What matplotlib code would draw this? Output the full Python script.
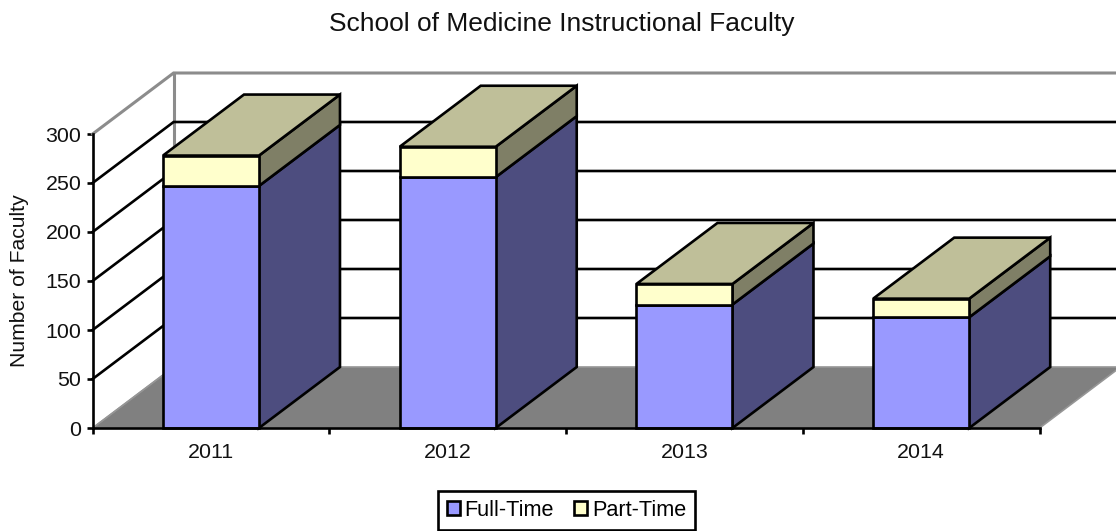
import matplotlib
matplotlib.use("Agg")
import matplotlib.pyplot as plt
from matplotlib.patches import Patch, Polygon

plt.rcParams["font.family"] = ["Liberation Sans", "DejaVu Sans"]

years = ["2011", "2012", "2013", "2014"]
full_time = [247, 256, 126, 113]
part_time = [31, 31, 21, 19]
y_ticks = [0, 50, 100, 150, 200, 250, 300]

BLUE, BLUE_SIDE = "#9999ff", "#4d4d7f"
CREAM, CREAM_SIDE, CREAM_TOP = "#ffffcc", "#7f7f66", "#bfbf99"
GREY = "#808080"
LW = 1.9

W, H = 1116, 531
fig = plt.figure(figsize=(W / 100, H / 100), dpi=100)
ax = fig.add_axes([92.6 / W, 1 - 428 / H, (1040 - 93) / W, (428 - 134) / H])
ax.set_xlim(0, 4)
ax.set_ylim(0, 300)

# depth of the fake 3d box, in data units
dx = 81 / (947 / 4)
dy = 61 / (294 / 300)
bar_width = 96 / (947 / 4)


def poly(points, face, zorder, edge="black", lw=LW):
    ax.add_patch(Polygon(points, closed=True, facecolor=face, edgecolor=edge,
                         linewidth=lw, zorder=zorder, clip_on=False,
                         joinstyle="miter"))


# floor and walls
poly([(0, 0), (4, 0), (4 + dx, dy), (dx, dy)], GREY, 1, edge="#969696", lw=1.2)
ax.plot([0, dx, 4 + dx], [300, 300 + dy, 300 + dy], color="#8c8c8c", lw=2.2,
        clip_on=False, zorder=2, solid_joinstyle="miter")
ax.plot([dx, dx], [dy, 300 + dy], color="#8c8c8c", lw=2.2, clip_on=False, zorder=2)
for v in y_ticks[1:-1]:
    ax.plot([0, dx, 4 + dx], [v, v + dy, v + dy], color="black", lw=LW,
            clip_on=False, zorder=2, solid_joinstyle="miter")
ax.plot([0, dx], [0, dy], color="#969696", lw=1, clip_on=False, zorder=2)

# bars, each one a box with front, side and top
for i in range(len(years)):
    left = i + 0.5 - bar_width / 2
    right = left + bar_width
    z = 3 + i
    f = full_time[i]
    t = f + part_time[i]
    poly([(right, 0), (right + dx, dy), (right + dx, f + dy), (right, f)], BLUE_SIDE, z)
    poly([(right, f), (right + dx, f + dy), (right + dx, t + dy), (right, t)], CREAM_SIDE, z)
    poly([(left, t), (right, t), (right + dx, t + dy), (left + dx, t + dy)], CREAM_TOP, z)
    ax.bar(i + 0.5, f, bar_width, color=BLUE, edgecolor="black", linewidth=LW,
           zorder=z + 0.5, clip_on=False)
    ax.bar(i + 0.5, part_time[i], bar_width, bottom=f, color=CREAM, edgecolor="black",
           linewidth=LW, zorder=z + 0.5, clip_on=False)

for side in ["top", "right"]:
    ax.spines[side].set_visible(False)
for side in ["left", "bottom"]:
    ax.spines[side].set_linewidth(LW)
    ax.spines[side].set_zorder(20)

ax.set_yticks(y_ticks)
ax.set_xticks(range(5))
ax.set_xticklabels([])
ax.set_xticks([i + 0.5 for i in range(4)], years, minor=True)
ax.tick_params(axis="x", which="major", length=4.5, width=LW)
ax.tick_params(axis="x", which="minor", length=0, pad=10.5, labelsize=15.4, labelcolor="#111111")
ax.tick_params(axis="y", length=4.5, width=LW, pad=3.5, labelsize=15.4, labelcolor="#111111")
ax.set_ylabel("Number of Faculty", fontsize=15.2, labelpad=12, color="#111111")
ax.patch.set_alpha(0)

fig.text(562 / W, 1 - 23.5 / H, "School of Medicine Instructional Faculty", fontsize=19,
         ha="center", va="center", color="#111111")

handles = [Patch(facecolor=BLUE, edgecolor="black", linewidth=LW, label="Full-Time"),
           Patch(facecolor=CREAM, edgecolor="black", linewidth=LW, label="Part-Time")]
leg = fig.legend(handles=handles, ncol=2, loc="center", bbox_to_anchor=(566.5 / W, 1 - 510.5 / H),
                 fontsize=15.6, frameon=True, fancybox=False, framealpha=1, edgecolor="black",
                 handlelength=0.6, handleheight=0.6, handletextpad=0.2, columnspacing=0.95,
                 borderpad=0.42, borderaxespad=0)
leg.get_frame().set_linewidth(LW)

fig.savefig("out.png", dpi=100)
